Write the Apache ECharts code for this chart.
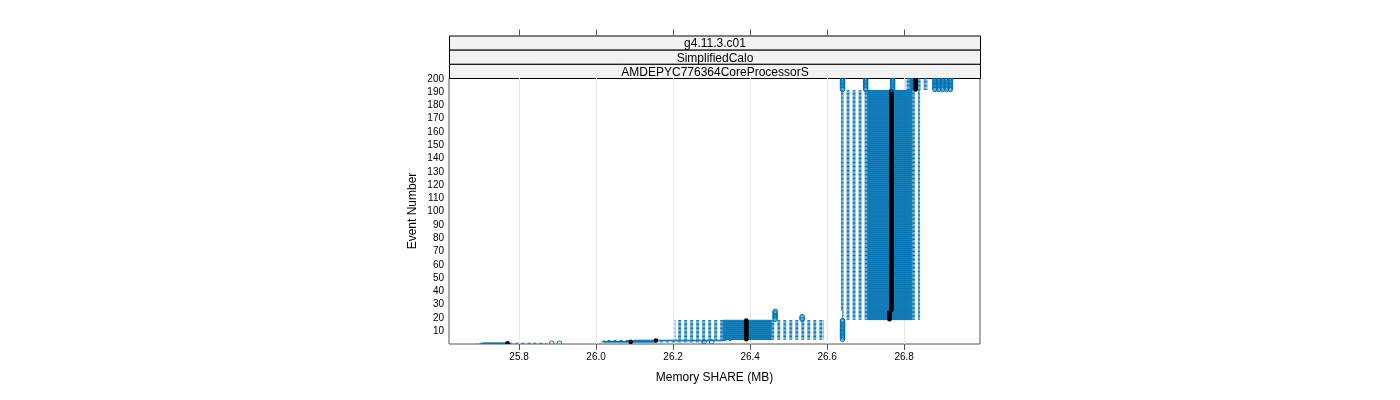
<!DOCTYPE html>
<html>
<head>
<meta charset="utf-8">
<script src="https://cdn.jsdelivr.net/npm/echarts@6/dist/echarts.min.js"></script>
<style>
html,body{margin:0;padding:0;background:#fff;}
#chart{width:1400px;height:400px;}
</style>
</head>
<body>
<div id="chart"></div>
<script>
// ---- data ----
const stripLabels = ['g4.11.3.c01', 'SimplifiedCalo', 'AMDEPYC776364CoreProcessorS'];
const xTicks = [25.8, 26.0, 26.2, 26.4, 26.6, 26.8];
const yTicks = [10, 20, 30, 40, 50, 60, 70, 80, 90, 100, 110, 120, 130, 140, 150, 160, 170, 180, 190, 200];

// groups of consecutive events sharing the same box statistics
const groupFirstEvent = [1, 2, 3, 4, 19, 26, 192];
const groupLastEvent  = [1, 2, 3, 18, 25, 191, 200];
const whiskerLow  = [25.69, 26.015, 26.02, 26.205, 26.64, 26.637, 26.805];
const boxLow      = [25.705, 26.02, 26.10, 26.33, 26.705, 26.705, 26.815];
const medianVal   = [25.77, 26.09, 26.155, 26.39, 26.762, 26.767, 26.83];
const boxHigh     = [25.775, 26.15, 26.33, 26.455, 26.82, 26.82, 26.835];
const whiskerHigh = [25.87, 26.29, 26.35, 26.59, 26.84, 26.84, 26.86];

// outliers: value for a range of events
const outlierFirstEvent = [1, 1, 2, 2, 4, 19, 19, 192, 192, 192, 192, 192, 192, 192, 192];
const outlierLastEvent  = [1, 1, 2, 2, 18, 25, 21, 200, 200, 200, 200, 200, 200, 200, 200];
const outlierValue      = [25.885, 25.905, 26.28, 26.30, 26.64, 26.465, 26.535, 26.64, 26.70, 26.77, 26.88, 26.89, 26.90, 26.91, 26.92];

const BLUE = '#0072B2';
const FONT = '"Liberation Sans", Arial, sans-serif';

const boxData = groupFirstEvent.map((f, i) => [f, groupLastEvent[i], whiskerLow[i], boxLow[i], medianVal[i], boxHigh[i], whiskerHigh[i]]);
const outData = outlierValue.map((v, i) => [outlierFirstEvent[i], outlierLastEvent[i], v]);

function renderBox(params, api) {
  const first = api.value(0), last = api.value(1);
  const lo = api.value(2), q1 = api.value(3), med = api.value(4), q3 = api.value(5), hi = api.value(6);
  const h = api.size([0, 0.5])[1];
  const children = [];
  for (let e = first; e <= last; e++) {
    const pLo = api.coord([lo, e]), pQ1 = api.coord([q1, e]);
    const pQ3 = api.coord([q3, e]), pHi = api.coord([hi, e]);
    const y = pLo[1];
    children.push({type: 'line', shape: {x1: pQ1[0], y1: y, x2: pLo[0], y2: y},
      style: {stroke: BLUE, lineWidth: 1, lineDash: [3, 3]}});
    children.push({type: 'line', shape: {x1: pQ3[0], y1: y, x2: pHi[0], y2: y},
      style: {stroke: BLUE, lineWidth: 1, lineDash: [3, 3]}});
    children.push({type: 'line', shape: {x1: pLo[0], y1: y - h / 2, x2: pLo[0], y2: y + h / 2},
      style: {stroke: BLUE, lineWidth: 1}});
    children.push({type: 'line', shape: {x1: pHi[0], y1: y - h / 2, x2: pHi[0], y2: y + h / 2},
      style: {stroke: BLUE, lineWidth: 1}});
    children.push({type: 'rect', shape: {x: pQ1[0], y: y - h / 2, width: pQ3[0] - pQ1[0], height: h},
      style: {stroke: BLUE, fill: 'none', lineWidth: 1}});
  }
  for (let e = first; e <= last; e++) {
    const pMed = api.coord([med, e]);
    children.push({type: 'circle', shape: {cx: pMed[0], cy: pMed[1], r: 2.3}, style: {fill: '#000'}});
  }
  return {type: 'group', children};
}

function renderOut(params, api) {
  const first = api.value(0), last = api.value(1), v = api.value(2);
  const children = [];
  for (let e = first; e <= last; e++) {
    const p = api.coord([v, e]);
    children.push({type: 'circle', shape: {cx: p[0], cy: p[1], r: 2.3},
      style: {fill: 'none', stroke: BLUE, lineWidth: 1}});
  }
  return {type: 'group', children};
}

const chart = echarts.init(document.getElementById('chart'), null, {renderer: 'canvas'});
const L = 449, R = 980, T = 78, B = 344;
const stripTop = 35.5;
const stripH = (T - stripTop) / 3;
const graphics = stripLabels.map((s, i) => ({
  type: 'group', left: L, top: stripTop + i * stripH,
  children: [
    {type: 'rect', shape: {x: 0, y: 0, width: R - L, height: stripH},
      style: {fill: '#f2f2f2', stroke: '#000', lineWidth: 1}},
    {type: 'text', x: (R - L) / 2, y: stripH / 2 + 1,
      style: {text: s, fill: '#000', font: '12px ' + FONT, align: 'center', verticalAlign: 'middle'}}
  ]
}));

chart.setOption({
  animation: false,
  backgroundColor: '#fff',
  textStyle: {fontFamily: FONT},
  grid: {left: L, right: 1400 - R, top: T, bottom: 400 - B, show: true,
    borderColor: '#555', borderWidth: 1, backgroundColor: 'transparent'},
  xAxis: [{
    type: 'value', min: 25.618, max: 26.997, position: 'bottom',
    name: 'Memory SHARE (MB)', nameLocation: 'middle', nameGap: 28,
    nameTextStyle: {fontSize: 12, color: '#000', fontFamily: FONT},
    axisLine: {show: false},
    axisTick: {show: true, customValues: xTicks, length: 6, lineStyle: {color: '#555'}},
    axisLabel: {customValues: xTicks, fontSize: 10, color: '#000', margin: 8,
      formatter: v => v.toFixed(1)},
    splitLine: {show: true, lineStyle: {color: '#e8e8e8', width: 1}}
  }, {
    type: 'value', min: 25.618, max: 26.997, position: 'top', offset: T - stripTop,
    axisLine: {show: false},
    axisTick: {show: true, customValues: xTicks, length: 6, lineStyle: {color: '#555'}},
    axisLabel: {show: false, customValues: xTicks},
    splitLine: {show: false}
  }],
  yAxis: {
    type: 'value', min: 0.4, max: 200.6,
    name: 'Event Number', nameLocation: 'middle', nameGap: 30, nameRotate: 90,
    nameTextStyle: {fontSize: 12, color: '#000', fontFamily: FONT},
    axisLine: {show: false}, axisTick: {show: false},
    axisLabel: {customValues: yTicks, fontSize: 10, color: '#000', margin: 5},
    splitLine: {show: false}
  },
  graphic: graphics,
  series: [
    {type: 'custom', renderItem: renderBox, data: boxData, clip: true, encode: {x: [2, 3, 4, 5, 6], y: [0, 1]}},
    {type: 'custom', renderItem: renderOut, data: outData, clip: true, encode: {x: 2, y: [0, 1]}}
  ]
});
</script>
</body>
</html>
